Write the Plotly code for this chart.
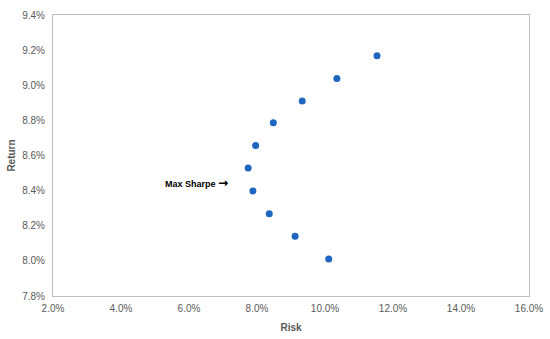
import plotly.graph_objects as go

risk = [11.53, 10.35, 9.33, 8.48, 7.96, 7.74, 7.88, 8.36, 9.12, 10.11]
ret = [9.168, 9.039, 8.911, 8.786, 8.657, 8.529, 8.398, 8.269, 8.140, 8.011]
x_ticks = [2, 4, 6, 8, 10, 12, 14, 16]
y_ticks = [7.8, 8.0, 8.2, 8.4, 8.6, 8.8, 9.0, 9.2, 9.4]
label_text = "Max Sharpe"
label_pos = (7.2, 8.445)

font_fam = "Liberation Sans, Arial, sans-serif"

fig = go.Figure()
fig.add_trace(go.Scatter(
    x=risk, y=ret, mode="markers",
    marker=dict(color="#1f66c1", size=7),
    showlegend=False, hoverinfo="skip",
))
fig.add_annotation(
    x=label_pos[0], y=label_pos[1],
    text="<b>" + label_text + " <span style='font-family:DejaVu Sans;font-size:12px'>\u2192</span></b>",
    showarrow=False, xanchor="right", yanchor="middle",
    font=dict(family=font_fam, size=9, color="#000000"),
)
fig.update_layout(
    width=550, height=339,
    margin=dict(l=53, r=21, t=15, b=43),
    paper_bgcolor="white", plot_bgcolor="white",
    font=dict(family=font_fam, size=10, color="#595959"),
)
fig.update_xaxes(
    range=[2, 16], tickvals=x_ticks,
    ticktext=[f"{v:.1f}%" for v in x_ticks],
    showgrid=False, zeroline=False, automargin=False,
    showline=True, linecolor="#bfbfbf", linewidth=1, mirror=True,
    ticks="", ticklabelstandoff=3,
    title=dict(text="<b>Risk</b>", font=dict(size=10, color="#595959"), standoff=10),
)
fig.update_yaxes(
    range=[7.8, 9.4], tickvals=y_ticks,
    ticktext=[f"{v:.1f}%" for v in y_ticks],
    showgrid=False, zeroline=False, automargin=False,
    showline=True, linecolor="#bfbfbf", linewidth=1, mirror=True,
    ticks="", ticklabelstandoff=5,
    title=dict(text="<b>Return</b>", font=dict(size=10, color="#595959"), standoff=4),
)
fig.write_html("out.html", config={"displayModeBar": False},
               post_script="document.body.style.margin='0';")
